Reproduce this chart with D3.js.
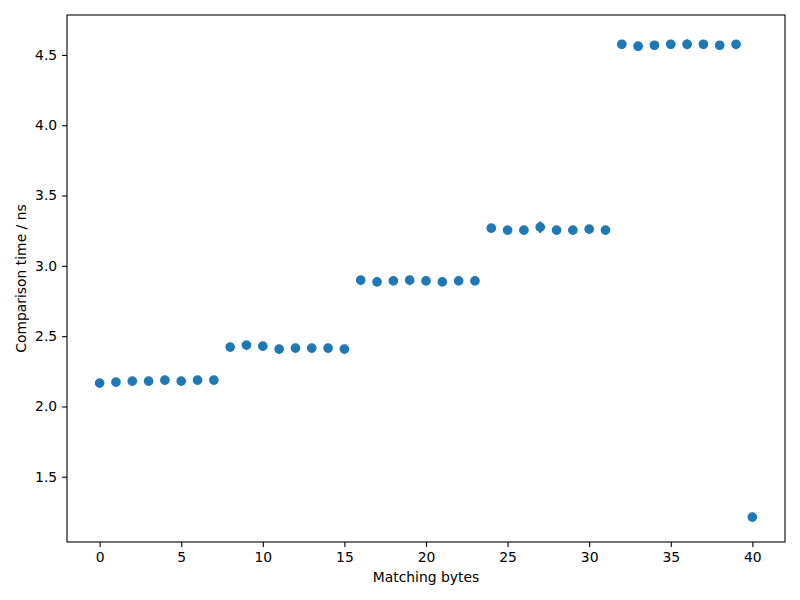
<!DOCTYPE html>
<html>
<head>
<meta charset="utf-8">
<script src="https://cdn.jsdelivr.net/npm/d3@7"></script>
<style>
  html, body { margin: 0; padding: 0; background: #fff; }
  svg { display: block; }
  text { font-family: "DejaVu Sans", sans-serif; fill: #000; }
</style>
</head>
<body>
<svg id="chart" width="800" height="600"></svg>
<script>
// Data
const matchingBytes = d3.range(0, 41);
const comparisonTime = [
  2.166, 2.173, 2.180, 2.180, 2.187, 2.180, 2.187, 2.187,
  2.422, 2.436, 2.429, 2.408, 2.415, 2.415, 2.415, 2.408,
  2.898, 2.886, 2.893, 2.898, 2.893, 2.886, 2.893, 2.893,
  3.268, 3.254, 3.254, 3.275, 3.254, 3.254, 3.261, 3.254,
  4.576, 4.562, 4.569, 4.576, 4.576, 4.576, 4.569, 4.576,
  1.213
];
const timeError = [
  0.005, 0.005, 0.005, 0.005, 0.005, 0.005, 0.005, 0.005,
  0.006, 0.006, 0.006, 0.005, 0.005, 0.005, 0.005, 0.005,
  0.006, 0.005, 0.005, 0.005, 0.005, 0.005, 0.005, 0.005,
  0.008, 0.006, 0.006, 0.042, 0.006, 0.006, 0.006, 0.006,
  0.010, 0.008, 0.008, 0.010, 0.035, 0.010, 0.008, 0.010,
  0.005
];
const xTicks = [0, 5, 10, 15, 20, 25, 30, 35, 40];
const yTicks = [1.5, 2.0, 2.5, 3.0, 3.5, 4.0, 4.5];
const xLabel = "Matching bytes";
const yLabel = "Comparison time / ns";

const color = "#1f77b4";
const svg = d3.select("#chart");
const m = { left: 67, right: 785, top: 15, bottom: 542 };

const x = d3.scaleLinear().domain([-2, 42]).range([m.left, m.right]);
const y = d3.scaleLinear().domain([1.036, 4.784]).range([m.bottom, m.top]);

const data = matchingBytes.map((b, i) => ({ x: b, y: comparisonTime[i], e: timeError[i] }));

// Axes
const xAxis = d3.axisBottom(x).tickValues(xTicks).tickFormat(d3.format("d"))
  .tickSizeInner(4.9).tickSizeOuter(0).tickPadding(4.9);
const yAxis = d3.axisLeft(y).tickValues(yTicks).tickFormat(d3.format(".1f"))
  .tickSizeInner(4.9).tickSizeOuter(0).tickPadding(4.9);

const gx = svg.append("g").attr("transform", `translate(0,${m.bottom})`).call(xAxis);
const gy = svg.append("g").attr("transform", `translate(${m.left},0)`).call(yAxis);
[gx, gy].forEach(g => {
  g.select(".domain").remove();
  g.selectAll(".tick line").attr("stroke", "#000").attr("stroke-width", 1.1);
  g.selectAll(".tick text").style("font-family", "DejaVu Sans, sans-serif")
    .style("font-size", "13.9px").attr("fill", "#000");
});

// Error bars
svg.append("g").selectAll("line").data(data).join("line")
  .attr("x1", d => x(d.x)).attr("x2", d => x(d.x))
  .attr("y1", d => y(d.y - d.e)).attr("y2", d => y(d.y + d.e))
  .attr("stroke", color).attr("stroke-width", 2);

// Markers
svg.append("g").selectAll("circle").data(data).join("circle")
  .attr("cx", d => x(d.x)).attr("cy", d => y(d.y))
  .attr("r", 4.2)
  .attr("fill", color).attr("stroke", color).attr("stroke-width", 1.3);

// Frame
svg.append("rect")
  .attr("x", m.left).attr("y", m.top)
  .attr("width", m.right - m.left).attr("height", m.bottom - m.top)
  .attr("fill", "none").attr("stroke", "#000").attr("stroke-width", 1.1);

// Labels
svg.append("text")
  .attr("x", (m.left + m.right) / 2).attr("y", 582)
  .attr("text-anchor", "middle").style("font-size", "13.9px")
  .text(xLabel);
svg.append("text")
  .attr("transform", `translate(26,${(m.top + m.bottom) / 2}) rotate(-90)`)
  .attr("text-anchor", "middle").style("font-size", "13.9px")
  .text(yLabel);
</script>
</body>
</html>
